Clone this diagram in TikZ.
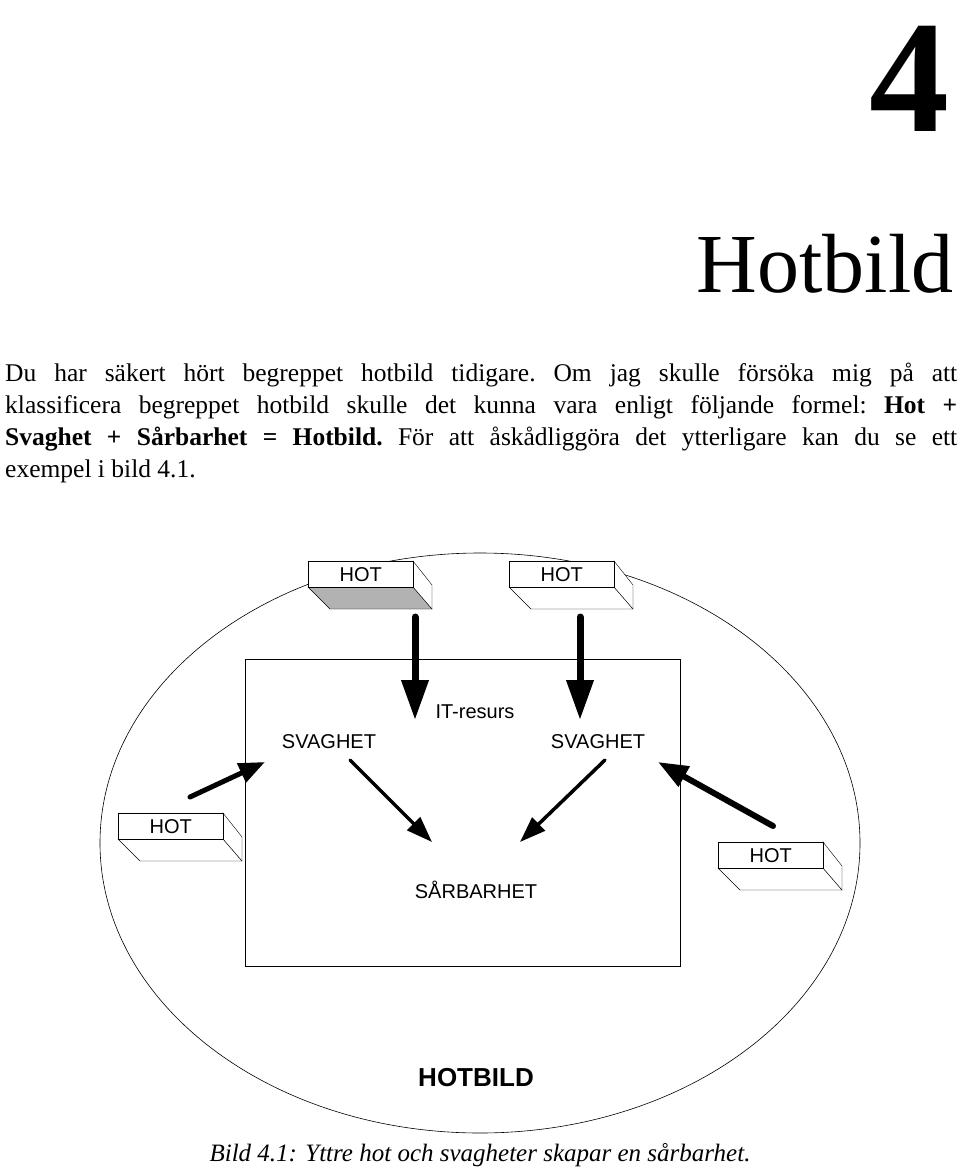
\documentclass[tikz,border=0pt]{standalone}
\usepackage{fontspec}
\setmainfont{Liberation Serif}
\newfontfamily\lab{Liberation Sans}
\usetikzlibrary{arrows.meta}
\begin{document}
\begin{tikzpicture}[x=1pt,y=-1pt,
 lbl/.style={font=\lab\fontsize{20}{22}\selectfont},
 big/.style={line width=7pt,-{Triangle[width=26pt,length=40pt]}}]
\useasboundingbox (0,0) rectangle (960,1174);
\node[anchor=base east,inner sep=0pt,font=\bfseries\fontsize{160}{160}\selectfont] (four) at (950,132) {4};
\node[anchor=base east,font=\fontsize{84}{84}\selectfont] (title) at (957,292) {Hotbild};
\node[anchor=north west,text width=952pt,align=justify,inner sep=0pt,font=\frenchspacing\fontsize{25.5}{32}\selectfont] (para) at (5,363)
{Du har säkert hört begreppet hotbild tidigare. Om jag skulle försöka mig på att\linebreak
klassificera begreppet hotbild skulle det kunna vara enligt följande formel: \textbf{Hot +}\linebreak
\textbf{Svaghet + Sårbarhet = Hotbild.} För att åskådliggöra det ytterligare kan du se ett\linebreak
exempel i bild 4.1.};
\draw[line width=0.6pt] (480,843) ellipse [x radius=380, y radius=290];
\draw[line width=0.8pt] (245,659) rectangle (680,966);
\newcommand\hbx[4]{%
 \draw[fill=#3] (#1,#2+26) -- (#1+22,#2+48) -- (#1+124,#2+48) -- (#1+105,#2+26) -- cycle;
 \draw[fill=white] (#1+105,#2) -- (#1+124,#2+24) -- (#1+124,#2+48) -- (#1+105,#2+26) -- cycle;
 \node[draw,fill=white,minimum width=105pt,minimum height=26pt,anchor=north west,inner sep=0pt,lbl] (#4) at (#1,#2) {HOT};}
\hbx{308}{561}{gray!60}{h1}
\hbx{509}{561}{white}{h2}
\hbx{118}{813}{white}{h3}
\hbx{718}{842}{white}{h4}
\node[lbl] (it) at (475,712) {IT-resurs};
\node[lbl] (s1) at (329,742) {SVAGHET};
\node[lbl] (s2) at (598,742) {SVAGHET};
\node[lbl] (sa) at (476,890) {SÅRBARHET};
\node[font=\lab\bfseries\fontsize{26}{28}\selectfont] (hb) at (476,1078) {HOTBILD};
\node[font=\itshape\fontsize{25}{28}\selectfont] (cap) at (480,1155) {Bild 4.1: Yttre hot och svagheter skapar en sårbarhet.};
\coordinate (a1) at (415,617); \coordinate (b1) at (415,720);
\coordinate (a2) at (580,617); \coordinate (b2) at (580,720);
\draw[big,line cap=round] (a1) -- (b1);
\draw[big,line cap=round] (a2) -- (b2);
\coordinate (c1) at (190,797); \coordinate (d1) at (265,762);
\coordinate (c2) at (350,760); \coordinate (d2) at (432,842);
\coordinate (c3) at (605,760); \coordinate (d3) at (520,842);
\coordinate (c4) at (773,826); \coordinate (d4) at (658,762);
\draw[line width=5pt,line cap=round,-{Triangle[width=20pt,length=26pt]}] (c1) -- (d1);
\draw[line width=3.5pt,line cap=round,-{Triangle[width=18pt,length=26pt]}] (c2) -- (d2);
\draw[line width=3.5pt,line cap=round,-{Triangle[width=18pt,length=26pt]}] (c3) -- (d3);
\draw[line width=6pt,line cap=round,-{Triangle[width=22pt,length=30pt]}] (c4) -- (d4);
\end{tikzpicture}
\end{document}
